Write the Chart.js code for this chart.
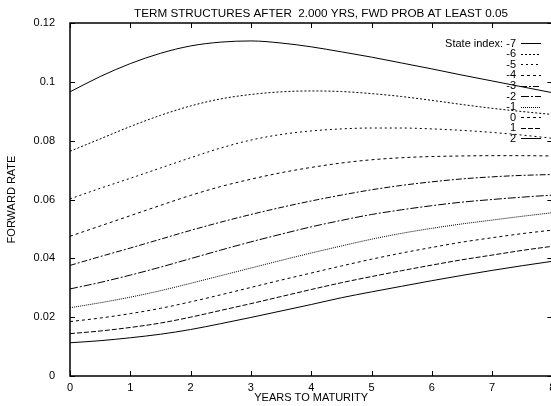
<!DOCTYPE html>
<html>
<head>
<meta charset="utf-8">
<script src="https://cdn.jsdelivr.net/npm/chart.js@4.4.1/dist/chart.umd.min.js"></script>
<style>
  html, body { margin: 0; padding: 0; background: #fff; overflow: hidden; width: 551px; height: 406px; }
  #c { display: block; }
</style>
</head>
<body>
<canvas id="c" width="553" height="406" style="width:553px;height:406px"></canvas>
<script>
const chartTitle = 'TERM STRUCTURES AFTER  2.000 YRS, FWD PROB AT LEAST 0.05';
const xTitle = 'YEARS TO MATURITY';
const yTitle = 'FORWARD RATE';
const legendPrefix = 'State index: ';

const xYears = [0,0.5,1,1.5,2,2.5,3,3.5,4,4.5,5,5.5,6,6.5,7,7.5,8];
const xTickLabels = ['0','1','2','3','4','5','6','7','8'];
const yTickLabels = ['0','0.02','0.04','0.06','0.08','0.1','0.12'];
const stateLabels = ['-7','-6','-5','-4','-3','-2','-1','0','1','2'];

const sM7 = [0.0966,0.1018,0.1062,0.1097,0.1122,0.1135,0.1139,0.1132,0.1119,0.1102,0.1084,0.1064,0.1044,0.1023,0.1003,0.0983,0.0963];
const sM6 = [0.0764,0.0806,0.0848,0.0886,0.0918,0.0942,0.0957,0.0966,0.0969,0.0967,0.0960,0.0950,0.0937,0.0923,0.0910,0.0899,0.0889];
const sM5 = [0.0602,0.0638,0.0672,0.0707,0.0742,0.0775,0.0802,0.0821,0.0833,0.0840,0.0843,0.0843,0.0840,0.0835,0.0828,0.0819,0.0808];
const sM4 = [0.0475,0.0510,0.0545,0.0580,0.0614,0.0644,0.0669,0.0691,0.0709,0.0724,0.0735,0.0742,0.0746,0.0748,0.0749,0.0749,0.0748];
const sM3 = [0.0376,0.0406,0.0435,0.0465,0.0495,0.0523,0.0549,0.0573,0.0595,0.0615,0.0633,0.0648,0.0660,0.0670,0.0677,0.0682,0.0685];
const sM2 = [0.0296,0.0318,0.0343,0.0370,0.0399,0.0428,0.0456,0.0482,0.0507,0.0529,0.0549,0.0565,0.0579,0.0591,0.0600,0.0608,0.0615];
const sM1 = [0.0232,0.0249,0.0268,0.0290,0.0315,0.0341,0.0367,0.0393,0.0418,0.0442,0.0465,0.0485,0.0502,0.0517,0.0530,0.0543,0.0555];
const s0  = [0.0185,0.0197,0.0212,0.0230,0.0252,0.0276,0.0301,0.0326,0.0350,0.0374,0.0397,0.0418,0.0437,0.0455,0.0470,0.0484,0.0496];
const s1  = [0.0144,0.0153,0.0165,0.0180,0.0200,0.0223,0.0246,0.0270,0.0294,0.0317,0.0338,0.0358,0.0377,0.0395,0.0411,0.0427,0.0441];
const s2  = [0.0113,0.0120,0.0130,0.0142,0.0158,0.0178,0.0199,0.0221,0.0243,0.0266,0.0286,0.0305,0.0324,0.0342,0.0359,0.0375,0.0390];

const seriesValues = [sM7, sM6, sM5, sM4, sM3, sM2, sM1, s0, s1, s2];
const dashes = [[], [2,2], [2,3], [3,3], [6,2,2,2], [8,2,2,2], [1,1], [3,3], [5,2], []];

const FONT = '"Liberation Sans", Arial, Helvetica, sans-serif';

const datasets = seriesValues.map((vals, i) => ({
  label: stateLabels[i],
  data: vals.map((v, j) => ({x: xYears[j], y: v})),
  borderColor: '#000',
  borderWidth: 1,
  borderDash: dashes[i],
  pointRadius: 0,
  fill: false,
  cubicInterpolationMode: 'monotone'
}));

const framePlugin = {
  id: 'frame',
  afterDatasetsDraw(chart) {
    const ctx = chart.ctx;
    const a = chart.chartArea;
    const xs = chart.scales.x, ys = chart.scales.y;
    ctx.save();
    ctx.strokeStyle = '#000';
    ctx.lineWidth = 1.5;
    ctx.setLineDash([]);
    ctx.beginPath();
    ctx.moveTo(a.left, a.top); ctx.lineTo(a.right, a.top);
    ctx.lineTo(a.right, a.bottom); ctx.lineTo(a.left, a.bottom); ctx.closePath();
    ctx.stroke();
    ctx.lineWidth = 1;
    const tl = 5;
    xs.ticks.forEach(t => {
      const px = Math.round(xs.getPixelForValue(t.value)) + 0.5;
      ctx.beginPath();
      ctx.moveTo(px, a.bottom); ctx.lineTo(px, a.bottom - tl);
      ctx.moveTo(px, a.top); ctx.lineTo(px, a.top + tl);
      ctx.stroke();
    });
    ys.ticks.forEach(t => {
      const py = Math.round(ys.getPixelForValue(t.value)) + 0.5;
      ctx.beginPath();
      ctx.moveTo(a.left, py); ctx.lineTo(a.left + tl, py);
      ctx.moveTo(a.right, py); ctx.lineTo(a.right - tl, py);
      ctx.stroke();
    });
    // title
    ctx.fillStyle = '#000';
    ctx.font = '11.7px ' + FONT;
    ctx.textAlign = 'center';
    ctx.textBaseline = 'alphabetic';
    ctx.fillText(chartTitle, 321, 16.5);
    // legend
    ctx.font = '11px ' + FONT;
    ctx.textAlign = 'right';
    ctx.textBaseline = 'middle';
    chart.data.datasets.forEach((ds, i) => {
      const y = 43.3 + i * 10.55;
      const txt = (i === 0 ? legendPrefix : '') + ds.label;
      ctx.fillText(txt, 516, y + 0.5);
      ctx.setLineDash(ds.borderDash || []);
      ctx.beginPath();
      ctx.moveTo(521, Math.round(y) + 0.5);
      ctx.lineTo(541, Math.round(y) + 0.5);
      ctx.stroke();
    });
    ctx.restore();
  }
};

new Chart(document.getElementById('c'), {
  type: 'line',
  data: { datasets },
  options: {
    responsive: false,
    animation: false,
    devicePixelRatio: 1,
    layout: { padding: { top: 23, right: 0.6, left: 0, bottom: 0 } },
    plugins: { legend: { display: false }, title: { display: false }, tooltip: { enabled: false } },
    scales: {
      x: {
        type: 'linear', min: 0, max: 8,
        grid: { display: false },
        border: { display: false },
        ticks: {
          stepSize: 1, color: '#000', padding: -3, maxRotation: 0, autoSkip: false,
          font: { family: FONT, size: 11 },
          callback: (v, i) => xTickLabels[i]
        },
        title: { display: true, text: xTitle, color: '#000', font: { family: FONT, size: 11 }, padding: { top: 0, bottom: 1 } },
        afterFit: s => { s.height = 30; s.paddingLeft = 0; s.paddingRight = 0; }
      },
      y: {
        min: 0, max: 0.12,
        grid: { display: false },
        border: { display: false },
        ticks: {
          stepSize: 0.02, color: '#000', padding: 7,
          font: { family: FONT, size: 11 },
          callback: (v, i) => yTickLabels[i]
        },
        title: { display: true, text: yTitle, color: '#000', font: { family: FONT, size: 11 }, padding: { top: 5.4, bottom: 0 } },
        afterFit: s => { s.width = 70; s.paddingTop = 0; s.paddingBottom = 0; }
      }
    }
  },
  plugins: [framePlugin]
});
</script>
</body>
</html>
